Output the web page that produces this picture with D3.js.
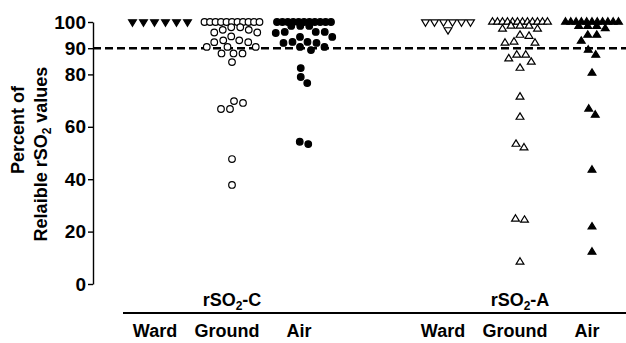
<!DOCTYPE html>
<html>
<head>
<meta charset="utf-8">
<script src="https://cdn.jsdelivr.net/npm/d3@7"></script>
<style>
  body { margin: 0; background: #fff; }
  text { font-family: "Liberation Sans", Arial, sans-serif; font-weight: bold; fill: #000; }
</style>
</head>
<body>
<div id="chart"></div>
<script>
// Reliable rSO2 values, scatter per transport type
var categories = ['Ward', 'Ground', 'Air'];
var sensors = ['C', 'A'];
var yTicks = [0, 20, 40, 60, 80, 90, 100];
var threshold = 90;

var wardC = [100, 100, 100, 100, 100, 100];
var groundC = [100, 100, 100, 100, 100, 100, 100, 100, 100, 100, 100,
               98, 98, 97, 97, 96, 96, 94.5, 93, 93, 92.3, 92.3,
               90.5, 90.5, 90.5, 88, 88, 88, 84.7,
               69.8, 69.1, 66.8, 66.8, 47.7, 37.8];
var airC = [100, 100, 100, 100, 100, 100, 100, 100, 100, 100, 100,
            98.5, 98.5, 98.5, 96.2, 96.2, 96.2, 95.8, 94.3, 94.3,
            92.4, 92.4, 92, 92, 90.5, 90.5, 89.3,
            82.4, 79, 76.7, 54.3, 53.4];
var wardA = [100, 100, 100, 97, 100, 100, 100];
var groundA = [100, 100, 100, 100, 100, 100, 100, 100, 100, 100, 100, 100,
               98.5, 98.5, 98.5, 97.3, 97.3, 95, 94.6, 92.4, 92, 92,
               87.4, 87.4, 86, 84.7, 82.4,
               71.4, 63.7, 53.4, 52, 24.8, 24.4, 8.4];
var airA = [100, 100, 100, 100, 100, 100, 100, 100, 100, 100, 100,
            98.4, 98.4, 98.4, 97.5, 95, 95, 92.7, 89.3, 87.4, 80.5,
            66.8, 64.5, 43.5, 21.8, 12.2];

var width = 626, height = 343;

var svg = d3.select('#chart')
  .append('svg')
    .attr('width', width)
    .attr('height', height);

var x = d3.scalePoint()
    .domain(['C-Ward', 'C-Ground', 'C-Air', 'gap', 'A-Ward', 'A-Ground', 'A-Air'])
    .range([160, 592]);

var y = d3.scaleLinear()
    .domain([0, 100])
    .range([284, 22]);

var axisX = 93;

// y axis
var yAxis = svg.append('g')
    .attr('transform', 'translate(' + axisX + ',0)')
    .call(d3.axisLeft(y).tickValues(yTicks).tickSize(5).tickSizeOuter(0).tickPadding(2));
yAxis.select('.domain').attr('stroke-width', 1.4);
yAxis.selectAll('.tick line').attr('stroke-width', 1.4);
yAxis.selectAll('.tick text')
    .attr('font-size', 19)
    .attr('font-family', '"Liberation Sans", Arial, sans-serif')
    .attr('font-weight', 'bold')
    .attr('fill', '#000');

// axis title, two lines
svg.append('text')
    .attr('transform', 'translate(24,130) rotate(-90)')
    .attr('text-anchor', 'middle')
    .attr('font-size', 18)
    .text('Percent of');
var t2 = svg.append('text')
    .attr('transform', 'translate(47,154) rotate(-90)')
    .attr('text-anchor', 'middle')
    .attr('font-size', 18);
t2.append('tspan').text('Relaible rSO');
t2.append('tspan').attr('font-size', 12).attr('dy', 4).text('2');
t2.append('tspan').attr('dy', -4).text(' values');

// 90 % threshold
svg.append('line')
    .attr('x1', axisX).attr('x2', width)
    .attr('y1', y(threshold)).attr('y2', y(threshold))
    .attr('stroke', '#000')
    .attr('stroke-width', 2.5)
    .attr('stroke-dasharray', '8,4');

// scatter layout: the 100 % row spread evenly, the rest as a beeswarm,
// each touching cluster re-centred on the column
function swarm(values, d, rowGap) {
    var top = values.filter(function(v) { return v === 100; });
    var rest = values.filter(function(v) { return v !== 100; })
        .sort(function(a, b) { return b - a; });
    var out = top.map(function(v, i) {
        return { v: v, y: y(v), dx: (i - (top.length - 1) / 2) * rowGap };
    });
    var placed = [];
    rest.forEach(function(v) {
        var py = y(v);
        for (var k = 0; k < 600; k++) {
            var off = (k % 2 === 1 ? 1 : -1) * Math.ceil(k / 2) * 0.5;
            var ok = placed.every(function(q) {
                var dx = q.dx - off, dy = q.y - py;
                return dx * dx + dy * dy >= d * d - 0.01;
            });
            if (ok) { placed.push({ v: v, y: py, dx: off }); break; }
        }
    });
    // find clusters
    var comp = placed.map(function(p, i) { return i; });
    function root(i) { while (comp[i] !== i) i = comp[i]; return i; }
    placed.forEach(function(p, i) {
        placed.forEach(function(q, j) {
            if (j <= i) return;
            var dx = p.dx - q.dx, dy = p.y - q.y;
            if (Math.sqrt(dx * dx + dy * dy) < d * 1.15) comp[root(j)] = root(i);
        });
    });
    var groups = d3.group(placed, function(p) { return root(placed.indexOf(p)); });
    groups.forEach(function(list) {
        var m = (d3.min(list, function(p) { return p.dx; }) + d3.max(list, function(p) { return p.dx; })) / 2;
        list.forEach(function(p) { p.dx -= m; });
    });
    return out.concat(placed);
}

function triPath(up) {
    var w = 3.9, h = 6.4;
    return up
      ? 'M0,' + (-h * 2 / 3) + 'L' + w + ',' + (h / 3) + 'L' + (-w) + ',' + (h / 3) + 'Z'
      : 'M0,' + (h * 2 / 3) + 'L' + w + ',' + (-h / 3) + 'L' + (-w) + ',' + (-h / 3) + 'Z';
}

var series = [
    { key: 'C-Ward',   values: wardC,   shape: 'down', fill: '#000', d: 9, gap: 11 },
    { key: 'C-Ground', values: groundC, shape: 'circle', fill: '#fff', d: 8.8, gap: 5.5 },
    { key: 'C-Air',    values: airC,    shape: 'circle', fill: '#000', d: 8.8, gap: 5.4 },
    { key: 'A-Ward',   values: wardA,   shape: 'down', fill: '#fff', d: 9, gap: 9 },
    { key: 'A-Ground', values: groundA, shape: 'up', fill: '#fff', d: 8.8, gap: 5 },
    { key: 'A-Air',    values: airA,    shape: 'up', fill: '#000', d: 8.8, gap: 5.3 }
];

series.forEach(function(s) {
    var pts = swarm(s.values, s.d, s.gap);
    var g = svg.append('g');
    var cx = x(s.key);
    if (s.shape === 'circle') {
        g.selectAll('circle').data(pts).enter().append('circle')
            .attr('cx', function(p) { return cx + p.dx; })
            .attr('cy', function(p) { return p.y; })
            .attr('r', 3.3)
            .attr('fill', s.fill)
            .attr('stroke', '#000')
            .attr('stroke-width', 1.2);
    } else {
        g.selectAll('path').data(pts).enter().append('path')
            .attr('transform', function(p) { return 'translate(' + (cx + p.dx) + ',' + p.y + ')'; })
            .attr('d', triPath(s.shape === 'up'))
            .attr('fill', s.fill)
            .attr('stroke', '#000')
            .attr('stroke-width', 1.2);
    }
});

// bottom bracket line and labels
svg.append('line')
    .attr('x1', 123).attr('x2', width)
    .attr('y1', 313).attr('y2', 313)
    .attr('stroke', '#000')
    .attr('stroke-width', 2);

sensors.forEach(function(s) {
    var t = svg.append('text')
        .attr('x', x(s + '-Ground'))
        .attr('y', 306)
        .attr('text-anchor', 'middle')
        .attr('font-size', 18);
    t.append('tspan').text('rSO');
    t.append('tspan').attr('font-size', 12).attr('dy', 4).text('2');
    t.append('tspan').attr('dy', -4).text('-' + s);

    categories.forEach(function(c) {
        svg.append('text')
            .attr('x', x(s + '-' + c) - 5)
            .attr('y', 337)
            .attr('text-anchor', 'middle')
            .attr('font-size', 18)
            .text(c);
    });
});
</script>
</body>
</html>
